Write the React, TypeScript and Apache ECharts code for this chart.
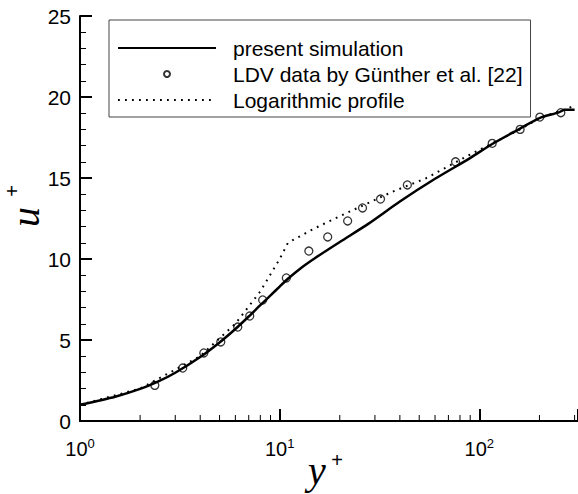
import React, { useEffect, useRef } from "react";
import * as echarts from "echarts";

// present simulation (y+, u+)
const simY = [1, 1.5, 2, 2.5, 3, 4, 5, 6, 7, 8, 9, 10, 11, 12.8, 15, 20, 28, 40, 60, 89, 116, 160, 200, 250, 268, 300];
const simU = [1.0, 1.5, 1.98, 2.48, 2.98, 3.95, 4.85, 5.68, 6.45, 7.15, 7.75, 8.3, 8.78, 9.45, 10.05, 11.05, 12.2, 13.55, 14.95, 16.2, 17.1, 18.05, 18.7, 19.05, 19.22, 19.22];

// LDV data by Günther et al.
const ldvY = [2.37, 3.27, 4.17, 5.07, 6.17, 7.08, 8.22, 10.8, 14.0, 17.4, 21.9, 26, 32, 43.6, 76, 116, 160, 201, 256];
const ldvU = [2.2, 3.27, 4.2, 4.88, 5.8, 6.48, 7.47, 8.83, 10.49, 11.36, 12.35, 13.15, 13.7, 14.57, 16.0, 17.14, 18.0, 18.76, 19.03];

// Logarithmic profile
const logY = [1, 2, 4, 6, 8, 10, 11, 15, 21.5, 36.7, 54, 89, 160, 200, 300];
const logU = [1, 2, 4, 6, 8, 10, 11, 11.9, 12.82, 14.15, 14.98, 16.42, 18.0, 18.7, 19.45];

// tick positions
const majorTicksX = [1, 10, 100];
const minorTicksX = [2, 3, 4, 5, 6, 7, 8, 9, 20, 30, 40, 50, 60, 70, 80, 90, 200, 300];

const seriesNames = ["present simulation", "LDV data by Günther et al. [22]", "Logarithmic profile"];

const zip = (a: number[], b: number[]) => a.map((v, i) => [v, b[i]]);

export default function App() {
  const ref = useRef<HTMLDivElement>(null);
  useEffect(() => {
    const chart = echarts.init(ref.current!, null, { renderer: "svg" });
    const sans = "Liberation Sans";
    const serif = "Liberation Serif";
    chart.setOption({
      animation: false,
      grid: { left: 80, right: 0, top: 16, bottom: 73, outerBoundsMode: "none" },
      legend: {
        data: seriesNames, orient: "vertical", left: 109, top: 20, padding: [15, 8, 4, 8],
        itemWidth: 98, itemHeight: 6, itemGap: 0, borderColor: "#444", borderWidth: 1,
        textStyle: { fontFamily: sans, fontSize: 21, color: "#000", lineHeight: 26, padding: [0, 0, 0, 12] },
      },
      xAxis: {
        type: "log", min: 1, max: 312,
        axisLine: { lineStyle: { color: "#000", width: 2 } },
        axisTick: { show: true, inside: true, length: 12, lineStyle: { color: "#000", width: 2 } },
        splitLine: { show: false },
        axisLabel: {
          customValues: majorTicksX, margin: 16, color: "#000",
          formatter: (v: number) => `{b|10}{s|${Math.round(Math.log10(v))}}`,
          rich: {
            b: { fontFamily: sans, fontSize: 20, color: "#000" },
            s: { fontFamily: sans, fontSize: 13, color: "#000", padding: [0, 0, 10, 0] },
          },
        },
      },
      yAxis: {
        type: "value", min: 0, max: 25, interval: 5,
        axisLine: { show: true, lineStyle: { color: "#000", width: 2 } },
        axisTick: { show: true, inside: true, length: 12, lineStyle: { color: "#000", width: 2 } },
        minorTick: { show: true, splitNumber: 5, length: 6, lineStyle: { color: "#000", width: 1 } },
        splitLine: { show: false },
        axisLabel: { fontFamily: sans, fontSize: 21, color: "#000", margin: 9 },
      },
      graphic: [
        { type: "text", x: 308, y: 470, style: { text: "y", fontFamily: serif, fontStyle: "italic", fontSize: 40, fill: "#000", align: "left", verticalAlign: "middle" } },
        { type: "text", x: 337, y: 460, style: { text: "+", fontFamily: sans, fontSize: 20, fill: "#000", align: "center", verticalAlign: "middle" } },
        { type: "text", x: 25, y: 217, rotation: Math.PI / 2, style: { text: "u", fontFamily: serif, fontStyle: "italic", fontSize: 40, fill: "#000", align: "center", verticalAlign: "middle" } },
        { type: "text", x: 12, y: 191, rotation: Math.PI / 2, style: { text: "+", fontFamily: sans, fontSize: 20, fill: "#000", align: "center", verticalAlign: "middle" } },
      ],
      series: [
        {
          name: seriesNames[0], type: "line", data: zip(simY, simU), symbol: "none", smooth: 0.25,
          color: "#000", itemStyle: { color: "#000", opacity: 0 }, lineStyle: { color: "#000", width: 2.5 }, z: 3,
        },
        {
          name: seriesNames[1], type: "scatter", data: zip(ldvY, ldvU), symbol: "circle", symbolSize: 8,
          color: "#000", itemStyle: { color: "rgba(0,0,0,0)", borderColor: "#000", borderWidth: 1.3 }, z: 4,
        },
        {
          name: seriesNames[2], type: "line", data: zip(logY, logU), symbol: "none",
          color: "#000", itemStyle: { color: "#000", opacity: 0 }, lineStyle: { color: "#000", width: 2, type: [1.8, 5.2] }, z: 2,
        },
        {
          type: "custom", clip: false, z: 5,
          data: minorTicksX.map((v) => [v, 0]),
          renderItem: (_p: any, api: any) => {
            const pt = api.coord([api.value(0), api.value(1)]);
            return { type: "line", shape: { x1: pt[0], y1: pt[1], x2: pt[0], y2: pt[1] - 6 }, style: { stroke: "#000", lineWidth: 1 } };
          },
        },
      ],
    });
    return () => chart.dispose();
  }, []);
  return <div ref={ref} style={{ position: "absolute", left: 0, top: 0, width: 578, height: 494, background: "#fff" }} />;
}
